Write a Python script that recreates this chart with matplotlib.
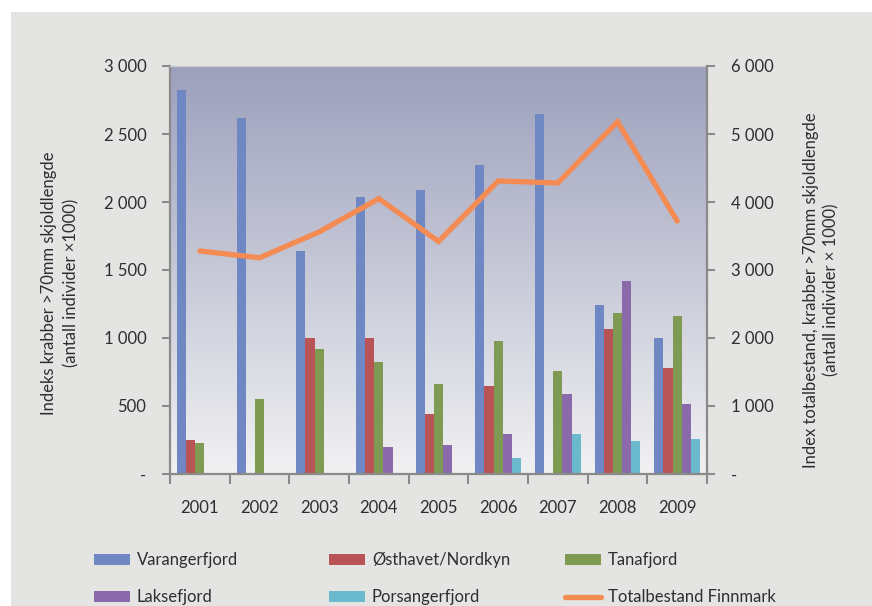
import numpy as np
import matplotlib
matplotlib.use("Agg")
import matplotlib.pyplot as plt
from matplotlib.patches import Rectangle, Patch
from matplotlib.lines import Line2D
from matplotlib.ticker import FuncFormatter, FixedLocator

plt.rcParams['font.family'] = ['Lato', 'DejaVu Sans']

years = ["2001", "2002", "2003", "2004", "2005", "2006", "2007", "2008", "2009"]
areas = ["Varangerfjord", "Østhavet/Nordkyn", "Tanafjord", "Laksefjord", "Porsangerfjord"]

varangerfjord = [2820, 2620, 1640, 2040, 2090, 2270, 2645, 1240, 1000]
osthavet = [250, 0, 1000, 1000, 440, 645, 0, 1065, 780]
tanafjord = [230, 550, 920, 820, 660, 980, 755, 1185, 1165]
laksefjord = [0, 0, 0, 195, 215, 295, 590, 1420, 515]
porsangerfjord = [0, 0, 0, 0, 0, 115, 295, 240, 260]
totalbestand = [3280, 3180, 3560, 4050, 3420, 4310, 4280, 5180, 3720]

colors = ["#6f88c4", "#b95456", "#7f9a52", "#8a6aaa", "#6ab9cc"]
line_color = "#f38b52"
text_color = "#2e2e2e"
axis_gray = "#8a8a8a"

W, H = 872, 606
fig = plt.figure(figsize=(W / 100, H / 100), dpi=100, facecolor="white")
fig.patches.append(Rectangle((11 / W, 0), 1 - 11 / W, (H - 12) / H,
                             transform=fig.transFigure, facecolor="#e4e4e2",
                             edgecolor="none", zorder=-10))

ax = fig.add_axes([170 / W, (H - 474) / H, (707 - 170) / W, (474 - 66) / H])
ax.patch.set_visible(False)

# gradient plot area background
grad = np.linspace(0, 1, 256).reshape(-1, 1)
top = np.array([0.612, 0.627, 0.737])
bot = np.array([0.945, 0.945, 0.950])
img = top[None, None, :] * (1 - grad[:, :, None]) + bot[None, None, :] * grad[:, :, None]
ax.imshow(img, extent=[0, 1, 0, 1], transform=ax.transAxes, aspect="auto", zorder=0)

x = np.arange(len(years))
w = 1 / 6.5
series = [varangerfjord, osthavet, tanafjord, laksefjord, porsangerfjord]
for i, (vals, c) in enumerate(zip(series, colors)):
    ax.bar(x + (i - 2) * w, vals, width=w, color=c, zorder=2)

ax.set_xlim(-0.5, len(years) - 0.5)
ax.set_ylim(0, 3000)
ax.set_yticks(np.arange(0, 3001, 500))

fmt = FuncFormatter(lambda v, p: "-" if v == 0 else f"{v:,.0f}".replace(",", " "))
ax.yaxis.set_major_formatter(fmt)

ax.set_xticks(x)
ax.set_xticklabels(years)
ax.xaxis.set_minor_locator(FixedLocator(np.arange(-0.5, len(years), 1)))
ax.tick_params(axis="x", which="major", length=0, pad=19, labelsize=12, labelcolor=text_color)
ax.tick_params(axis="x", which="minor", length=7, width=1.5, color=axis_gray)
ax.tick_params(axis="y", length=6, width=1.5, color=axis_gray, pad=11,
               labelsize=12, labelcolor=text_color)

for s in ["left", "bottom"]:
    ax.spines[s].set_color(axis_gray)
    ax.spines[s].set_linewidth(1.6)
ax.spines["right"].set_visible(False)
ax.spines["top"].set_color("#c9c9c9")
ax.spines["top"].set_linewidth(1)

ax2 = ax.twinx()
ax2.plot(x, totalbestand, color=line_color, lw=3.8, solid_capstyle="round",
         solid_joinstyle="miter", zorder=5)
ax2.set_ylim(0, 6000)
ax2.set_yticks(np.arange(0, 6001, 1000))
ax2.yaxis.set_major_formatter(fmt)
ax2.tick_params(axis="y", length=6, width=1.5, color=axis_gray, pad=11,
                labelsize=12, labelcolor=text_color)
for s in ["left", "bottom", "top"]:
    ax2.spines[s].set_visible(False)
ax2.spines["right"].set_color(axis_gray)
ax2.spines["right"].set_linewidth(1.6)

fig.text(60 / W, 1 - 283 / H, "Indeks krabber >70mm skjoldlengde\n(antall individer ×1000)",
         rotation=90, ha="center", va="center", fontsize=12, color=text_color,
         linespacing=1.45, multialignment="center")
fig.text(821 / W, 1 - 290 / H, "Index totalbestand, krabber >70mm skjoldlengde\n(antall individer × 1000)",
         rotation=90, ha="center", va="center", fontsize=12, color=text_color,
         linespacing=1.3, multialignment="center")

handles = [Patch(facecolor=c, edgecolor="none") for c in colors]
handles.append(Line2D([0], [0], color=line_color, lw=3.8, solid_capstyle="round"))
labels = areas + ["Totalbestand Finnmark"]
col_x = [94, 329, 565]
for j in range(3):
    leg = fig.legend([handles[j], handles[j + 3]], [labels[j], labels[j + 3]],
                     loc="upper left", bbox_to_anchor=(col_x[j] / W, 1 - 552 / H),
                     frameon=False, fontsize=12, handlelength=2.15, handleheight=0.66,
                     handletextpad=0.42, labelspacing=1.28, borderpad=0, borderaxespad=0)
    for t in leg.get_texts():
        t.set_color(text_color)

fig.savefig("out.png", dpi=100, facecolor=fig.get_facecolor())
